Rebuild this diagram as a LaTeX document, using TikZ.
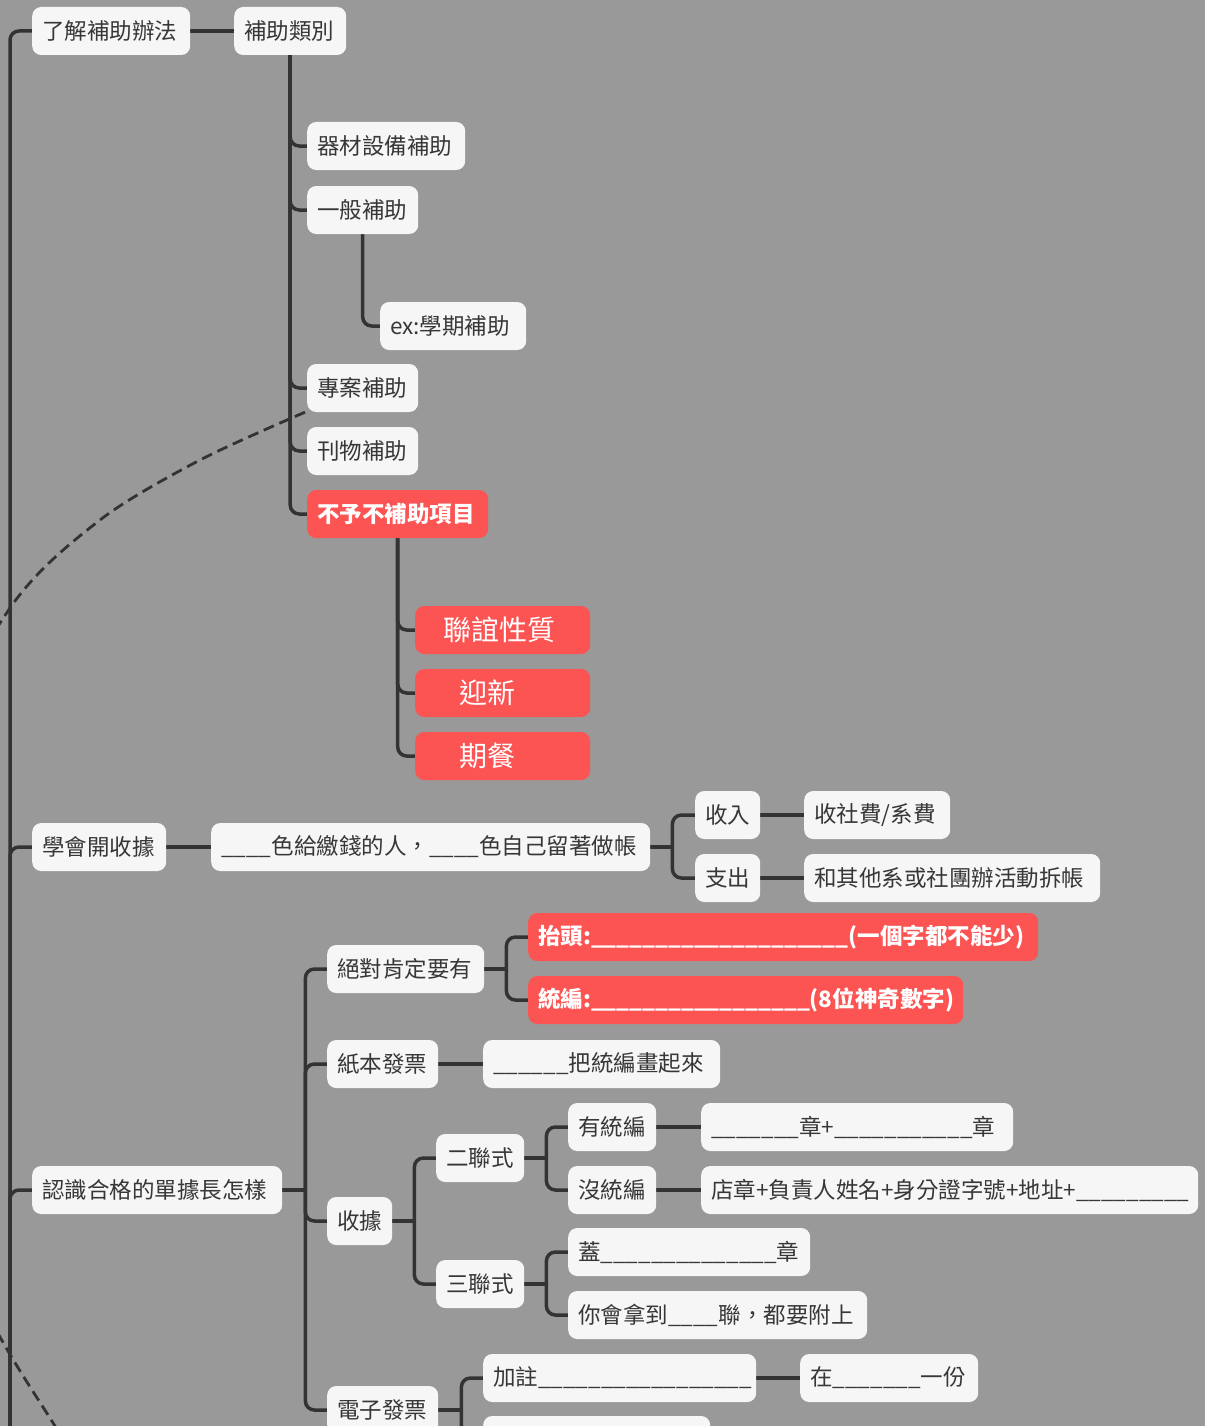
\documentclass[tikz,border=0pt]{standalone}
\usepackage{fontspec}
\setmainfont{Noto Sans CJK TC}
\definecolor{pagebg}{RGB}{153,153,153}
\definecolor{boxclr}{RGB}{246,246,246}
\definecolor{hotclr}{RGB}{252,83,83}
\definecolor{lineclr}{RGB}{51,51,51}
\definecolor{txtclr}{RGB}{55,55,55}
\pgfdeclarelayer{bg}
\pgfsetlayers{bg,main}
% a run of n underscores for fill-in blanks
\newcount\blk
\newcommand\blanks[1]{\blk=#1\relax\loop\ifnum\blk>0 \_\advance\blk by -1 \repeat}
\begin{document}
\begin{tikzpicture}[x=1pt,y=-1pt,
  conn/.style={draw=lineclr, line width=3.5pt, rounded corners=9pt},
  rel/.style={draw=lineclr, line width=2.8pt, dash pattern=on 11pt off 6pt},
  topic/.style={fill=boxclr, text=txtclr, rounded corners=9pt, minimum height=48pt,
    inner xsep=10pt, inner ysep=0pt, anchor=west, align=left,
    font=\fontsize{22.5}{27}\selectfont},
  hot/.style={topic, fill=hotclr, text=white, font=\fontsize{22.5}{27}\selectfont\bfseries},
  hotbig/.style={topic, fill=hotclr, text=white, font=\fontsize{28}{32}\selectfont},
  tw/.style={text width=#1pt}
]
\useasboundingbox (0,0) rectangle (1205,1426);
\clip (0,0) rectangle (1205,1426);

% ---- first branch: subsidy rules
\node[topic,tw=138] (n1) at (32,31) {了解補助辦法};
\node[topic,tw=92]  (n2) at (234,31) {補助類別};
\node[topic,tw=138] (a1) at (307,146) {器材設備補助};
\node[topic,tw=91]  (a2) at (307,210) {一般補助};
\node[topic,tw=126] (a2x) at (380,326) {ex:學期補助};
\node[topic,tw=91]  (a3) at (307,388) {專案補助};
\node[topic,tw=91]  (a4) at (307,451) {刊物補助};
\node[hot,tw=161]   (a5) at (307,514) {不予不補助項目};
\node[hotbig,tw=155] (r1) at (415,630) {\hspace*{18pt}聯誼性質};
\node[hotbig,tw=155] (r2) at (415,693) {\hspace*{34pt}迎新};
\node[hotbig,tw=155] (r3) at (415,756) {\hspace*{34pt}期餐};

% ---- second branch: receipts issued by the society
\node[topic,tw=114] (m1) at (32,847) {學會開收據};
\node[topic,tw=419] (m2) at (211,847) {\blanks4色給繳錢的人，\blanks4色自己留著做帳};
\node[topic,tw=45]  (m3) at (695,815) {收入};
\node[topic,tw=45]  (m4) at (695,878) {支出};
\node[topic,tw=126] (m5) at (804,815) {收社費/系費};
\node[topic,tw=276] (m6) at (804,878) {和其他系或社團辦活動拆帳};

% ---- third branch: valid vouchers
\node[topic,tw=230] (k1) at (32,1190) {認識合格的單據長怎樣};
\node[topic,tw=137] (k2) at (327,969) {絕對肯定要有};
\node[hot,tw=490]   (k3) at (528,937) {抬頭:\blanks{20}(一個字都不能少)};
\node[hot,tw=415]   (k4) at (528,1000) {統編:\blanks{17}(8位神奇數字)};
\node[topic,tw=91]  (k5) at (327,1064) {紙本發票};
\node[topic,tw=217] (k6) at (483,1064) {\blanks6把統編畫起來};
\node[topic,tw=45]  (k7) at (327,1221) {收據};
\node[topic,tw=68]  (k8) at (436,1158) {二聯式};
\node[topic,tw=68]  (k9) at (436,1284) {三聯式};
\node[topic,tw=68]  (k10) at (568,1127) {有統編};
\node[topic,tw=68]  (k11) at (568,1190) {沒統編};
\node[topic,tw=292] (k12) at (701,1127) {\blanks7章+\blanks{11}章};
\node[topic,tw=477] (k13) at (701,1190) {店章+負責人姓名+身分證字號+地址+\blanks9};
\node[topic,tw=222] (k14) at (568,1252) {蓋\blanks{14}章};
\node[topic,tw=279] (k15) at (568,1315) {你會拿到\blanks4聯，都要附上};
\node[topic,tw=91]  (k16) at (327,1410) {電子發票};
\node[topic,tw=253] (k17) at (483,1378) {加註\blanks{17}};
\node[topic,tw=158] (k18) at (800,1378) {在\blanks7一份};
\node[topic,tw=207] (k19) at (483,1440) {};

\begin{pgfonlayer}{bg}
  \fill[pagebg] (0,0) rectangle (1205,1426);
  % main trunk
  \coordinate (root) at (10,1520);
  \foreach \c in {n1,m1,k1} \draw[conn] (root) |- (\c.west);
  % subsidy types
  \draw[conn] (n1.east) -- (n2.west);
  \foreach \c in {a1,a2,a3,a4,a5} \draw[conn] (n2.south) |- (\c.west);
  \draw[conn] (a2.south) |- (a2x.west);
  \foreach \c in {r1,r2,r3} \draw[conn] (a5.south) |- (\c.west);
  % receipts
  \draw[conn] (m1.east) -- (m2.west);
  \coordinate (f1) at ([xshift=22pt]m2.east);
  \draw[conn] (m2.east) -- (f1);
  \foreach \c in {m3,m4} \draw[conn] (f1) |- (\c.west);
  \draw[conn] (m3.east) -- (m5.west);
  \draw[conn] (m4.east) -- (m6.west);
  % vouchers
  \coordinate (f2) at ([xshift=23pt]k1.east);
  \draw[conn] (k1.east) -- (f2);
  \foreach \c in {k2,k5,k7,k16} \draw[conn] (f2) |- (\c.west);
  \coordinate (f3) at ([xshift=22pt]k2.east);
  \draw[conn] (k2.east) -- (f3);
  \foreach \c in {k3,k4} \draw[conn] (f3) |- (\c.west);
  \draw[conn] (k5.east) -- (k6.west);
  \coordinate (f4) at ([xshift=22pt]k7.east);
  \draw[conn] (k7.east) -- (f4);
  \foreach \c in {k8,k9} \draw[conn] (f4) |- (\c.west);
  \coordinate (f5) at ([xshift=22pt]k8.east);
  \draw[conn] (k8.east) -- (f5);
  \foreach \c in {k10,k11} \draw[conn] (f5) |- (\c.west);
  \draw[conn] (k10.east) -- (k12.west);
  \draw[conn] (k11.east) -- (k13.west);
  \coordinate (f6) at ([xshift=22pt]k9.east);
  \draw[conn] (k9.east) -- (f6);
  \foreach \c in {k14,k15} \draw[conn] (f6) |- (\c.west);
  \coordinate (f7) at ([xshift=23pt]k16.east);
  \draw[conn] (k16.east) -- (f7);
  \foreach \c in {k17,k19} \draw[conn] (f7) |- (\c.west);
  \draw[conn] (k17.east) -- (k18.west);
  % dashed relationship curve
  \coordinate (relA) at ([xshift=-2pt]a3.south west);
  \draw[rel] plot[smooth] coordinates {(relA) (200,460) (100,520) (10,608)
    (-94,800) (-122,980) (-94,1160) (0,1337) (55,1426) (75,1460)};
\end{pgfonlayer}
\end{tikzpicture}
\end{document}
